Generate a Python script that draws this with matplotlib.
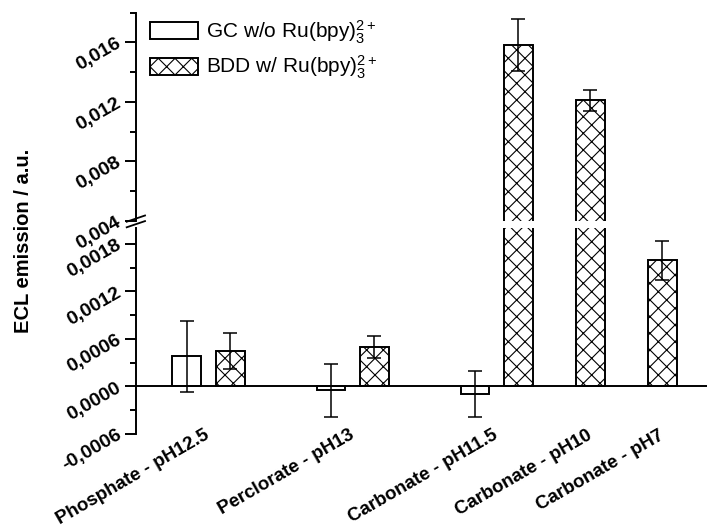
import numpy as np
import matplotlib
matplotlib.use("Agg")
from matplotlib import pyplot as plt
from matplotlib.ticker import FixedLocator

plt.rcParams['font.family'] = ['Liberation Sans', 'DejaVu Sans']
plt.rcParams['mathtext.fontset'] = 'custom'
plt.rcParams['mathtext.rm'] = 'Liberation Sans'
plt.rcParams['mathtext.it'] = 'Liberation Sans:italic'
plt.rcParams['hatch.linewidth'] = 0.8

# data
categories = ["Phosphate - pH12.5", "Perclorate - pH13", "Carbonate - pH11.5",
              "Carbonate - pH10", "Carbonate - pH7"]
gc_values = [0.00038, -0.00005, -0.00009, np.nan, np.nan]
gc_errors = [0.00045, 0.00033, 0.00029, np.nan, np.nan]
bdd_values = [0.00045, 0.00050, 0.0158, 0.0121, 0.00159]
bdd_errors = [0.00023, 0.00014, 0.00175, 0.00071, 0.00025]
series_labels = ["GC w/o Ru(bpy)$_3^{2+}$", "BDD w/ Ru(bpy)$_3^{2+}$"]

lower_ticks = [-0.0006, 0.0, 0.0006, 0.0012, 0.0018]
upper_ticks = [0.004, 0.008, 0.012, 0.016]

# layout
group_pos = np.array([0, 1, 2, 2.5, 3])
offset = 0.15
width = 0.2
gc_x = group_pos - offset
bdd_x = group_pos + offset
tick_x = [p if not np.isnan(v) else p + offset for p, v in zip(group_pos, gc_values)]

fig = plt.figure(figsize=(7.07, 5.30), dpi=100)
ax_top = fig.add_axes([0.1924, 0.5830, 0.8076, 0.3930])
ax_bot = fig.add_axes([0.1924, 0.1811, 0.8076, 0.3887])

lw = 1.4
for ax in (ax_top, ax_bot):
    h1 = ax.bar(gc_x, gc_values, width, color='white', edgecolor='black', linewidth=lw,
                label=series_labels[0], zorder=2)
    h2 = ax.bar(bdd_x, bdd_values, width, color='white', edgecolor='black', linewidth=lw,
                hatch='xx', label=series_labels[1], zorder=2)
    ax.errorbar(gc_x, gc_values, yerr=gc_errors, fmt='none', ecolor='black',
                elinewidth=1.1, capsize=4.7, capthick=1.1, zorder=3)
    ax.errorbar(bdd_x, bdd_values, yerr=bdd_errors, fmt='none', ecolor='black',
                elinewidth=1.1, capsize=4.7, capthick=1.1, zorder=3)
    ax.set_xlim(-0.503, 3.46)
    for s in ('top', 'right', 'bottom'):
        ax.spines[s].set_visible(False)
    ax.spines['left'].set_linewidth(lw)
    ax.tick_params(axis='y', which='major', length=8, width=lw, direction='out')
    ax.tick_params(axis='y', which='minor', length=4, width=lw, direction='out')

# lower part
ax_bot.set_ylim(-0.0006, 0.002)
ax_bot.set_yticks(lower_ticks, [f"{v:.4f}".replace('.', ',') for v in lower_ticks],
                  rotation=30, ha='right', va='center', rotation_mode='anchor',
                  fontsize=14, fontweight='bold')
ax_bot.yaxis.set_minor_locator(FixedLocator([-0.0003, 0.0003, 0.0009, 0.0015]))
ax_bot.axhline(0, color='black', linewidth=lw, zorder=4)
ax_bot.set_xticks(tick_x, categories, rotation=30, ha='right', va='center',
                  rotation_mode='anchor', fontsize=13.5, fontweight='bold')
ax_bot.tick_params(axis='x', length=0, pad=0)

# upper part
ax_top.set_ylim(0.004, 0.018)
ax_top.set_yticks(upper_ticks, [f"{v:.3f}".replace('.', ',') for v in upper_ticks],
                  rotation=30, ha='right', va='center', rotation_mode='anchor',
                  fontsize=14, fontweight='bold')
ax_top.yaxis.set_minor_locator(FixedLocator([0.006, 0.010, 0.014, 0.018]))
ax_top.set_xticks([])
ax_top.legend(handles=[h1, h2], loc='upper left', bbox_to_anchor=(0.01, 1.014),
              frameon=False, fontsize=15, handlelength=2.3, handleheight=0.92,
              handletextpad=0.4, labelspacing=0.4, borderaxespad=0)

# break marks on the y axis
W, H = 707, 530
for y0 in (221.7, 227.3):
    fig.add_artist(plt.Line2D([126.7 / W, 145 / W], [1 - y0 / H, 1 - (y0 - 6.2) / H],
                              color='black', linewidth=1.3))

fig.text(24 / W, 0.546, "ECL emission / a.u.", rotation=90, ha='center', va='center',
         fontsize=14.5, fontweight='bold')

fig.savefig("out.png", dpi=100)
